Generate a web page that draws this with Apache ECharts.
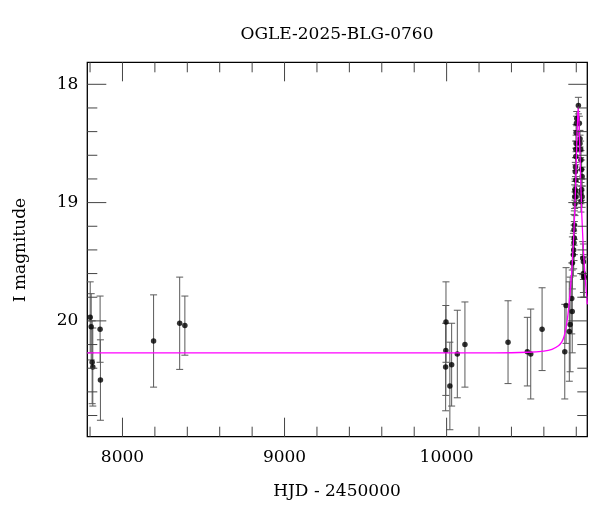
<!DOCTYPE html>
<html>
<head>
<meta charset="utf-8">
<script src="https://cdn.jsdelivr.net/npm/echarts@6/dist/echarts.min.js"></script>
<style>
html,body{margin:0;padding:0;background:#fff;}
#chart{width:600px;height:512px;}
</style>
</head>
<body>
<div id="chart"></div>
<script>
// ---- data ----
const titleText = 'OGLE-2025-BLG-0760';
const xName = 'HJD - 2450000';
const yName = 'I magnitude';

const obsT = [7801, 7807, 7813, 7817, 7862, 7864, 8192, 8353, 8385, 9996, 9995, 9994, 10020, 10031, 10066, 10113, 10379, 10498, 10519, 10589,
  10729, 10737, 10757, 10762, 10772, 10775, 10776, 10782, 10784, 10786, 10788, 10786, 10788, 10792, 10790, 10794, 10799, 10792, 10797, 10794,
  10795, 10797, 10797, 10799, 10799, 10801, 10803, 10813, 10819, 10823, 10823, 10827, 10829, 10833, 10836, 10829, 10829, 10833, 10836, 10840,
  10844, 10844, 10845, 10850];
const obsMag = [19.97, 20.05, 20.35, 20.39, 20.07, 20.50, 20.17, 20.02, 20.04, 20.01, 20.25, 20.39, 20.55, 20.37, 20.28, 20.20, 20.18, 20.26, 20.28, 20.07,
  20.26, 19.87, 20.09, 20.03, 19.81, 19.92, 19.51, 19.44, 19.40, 19.34, 19.30, 19.23, 19.19, 19.01, 18.95, 18.91, 18.95, 18.89, 18.81, 18.74,
  18.70, 18.61, 18.55, 18.50, 18.41, 18.33, 18.29, 18.18, 18.33, 18.46, 18.50, 18.55, 18.64, 18.72, 18.78, 18.92, 18.99, 18.89, 18.95, 19.47,
  19.50, 19.60, 19.63, 19.63];
const obsErr = [0.30, 0.28, 0.35, 0.33, 0.28, 0.34, 0.39, 0.39, 0.25, 0.34, 0.38, 0.37, 0.37, 0.35, 0.37, 0.36, 0.35, 0.29, 0.38, 0.35,
  0.40, 0.32, 0.42, 0.40, 0.30, 0.35, 0.22, 0.18, 0.16, 0.15, 0.14, 0.13, 0.12, 0.10, 0.10, 0.09, 0.09, 0.09, 0.08, 0.08,
  0.08, 0.07, 0.07, 0.07, 0.07, 0.06, 0.06, 0.07, 0.06, 0.07, 0.07, 0.07, 0.08, 0.08, 0.08, 0.09, 0.09, 0.09, 0.09, 0.14,
  0.15, 0.16, 0.17, 0.17];

const modelT = [7783, 10300, 10500, 10600, 10650, 10690, 10710, 10725, 10740, 10750, 10760, 10770, 10780, 10790, 10797, 10803, 10808, 10812,
  10816, 10821, 10827, 10834, 10844, 10854, 10864, 10868];
const modelMag = [20.27, 20.27, 20.265, 20.255, 20.24, 20.21, 20.18, 20.13, 20.03, 19.93, 19.79, 19.62, 19.40, 19.10, 18.80, 18.50, 18.29, 18.19,
  18.29, 18.50, 18.80, 19.10, 19.40, 19.62, 19.79, 19.86];

const xMajorTicks = [8000, 9000, 10000];
const xMinorTicks = [7800, 8200, 8400, 8600, 8800, 9200, 9400, 9600, 9800, 10200, 10400, 10600, 10800];
const yMajorTicks = [18, 19, 20];
const yMinorTicks = [18.2, 18.4, 18.6, 18.8, 19.2, 19.4, 19.6, 19.8, 20.2, 20.4, 20.6, 20.8];

const xMin = 7783, xMax = 10868;
const yMin = 17.814, yMax = 20.979;

// ---- build ----
const FONT = '"DejaVu Serif", serif';
const obsData = obsT.map((t, i) => [t, obsMag[i]]);
const errData = obsT.map((t, i) => [t, obsMag[i], obsErr[i]]);
const modelData = modelT.map((t, i) => [t, modelMag[i]]);
const yMid = (yMin + yMax) / 2, xMid = (xMin + xMax) / 2;
const tickData = [];
xMajorTicks.forEach(v => tickData.push([v, yMid, 1, 0]));
xMinorTicks.forEach(v => tickData.push([v, yMid, 0, 0]));
yMajorTicks.forEach(v => tickData.push([xMid, v, 1, 1]));
yMinorTicks.forEach(v => tickData.push([xMid, v, 0, 1]));

const chart = echarts.init(document.getElementById('chart'), null, {renderer: 'canvas'});
chart.setOption({
  animation: false,
  backgroundColor: '#fff',
  grid: {left: 87.3, top: 62.3, right: 12.7, bottom: 75.3, show: true, borderColor: '#000', borderWidth: 1.3, backgroundColor: 'transparent'},
  xAxis: {type: 'value', min: xMin, max: xMax, axisLine: {show: false}, axisTick: {show: false}, axisLabel: {show: false}, splitLine: {show: false}},
  yAxis: {type: 'value', inverse: true, min: yMin, max: yMax, axisLine: {show: false}, axisTick: {show: false}, axisLabel: {show: false}, splitLine: {show: false}},
  graphic: [
    {type: 'text', left: 'center', top: 0, style: {text: ''}},
    {type: 'text', x: 337, y: 35, style: {text: titleText, font: '17px ' + FONT, fill: '#000', align: 'center', verticalAlign: 'middle'}},
    {type: 'text', x: 337, y: 492, style: {text: xName, font: '17px ' + FONT, fill: '#000', align: 'center', verticalAlign: 'middle'}},
    {type: 'text', x: 21, y: 250, rotation: Math.PI / 2, style: {text: yName, font: '17px ' + FONT, fill: '#000', align: 'center', verticalAlign: 'middle'}}
  ],
  series: [
    {
      type: 'custom', name: 'ticks', data: tickData, encode: {x: 0, y: 1}, z: 5, silent: true, clip: false,
      renderItem: function (params, api) {
        const cs = params.coordSys;
        const major = api.value(2) === 1;
        const isX = api.value(3) === 0;
        const len = major ? 19 : 10;
        const st = {stroke: '#444', lineWidth: 1};
        const ch = [];
        if (isX) {
          const px = api.coord([api.value(0), api.value(1)])[0];
          const b = cs.y + cs.height, t = cs.y;
          ch.push({type: 'line', shape: {x1: px, y1: b, x2: px, y2: b - len}, style: st});
          ch.push({type: 'line', shape: {x1: px, y1: t, x2: px, y2: t + len}, style: st});
          if (major) ch.push({type: 'text', x: px, y: b + 21, style: {text: String(api.value(0)), font: '17px ' + FONT, fill: '#000', align: 'center', verticalAlign: 'middle'}});
        } else {
          const py = api.coord([api.value(0), api.value(1)])[1];
          const l = cs.x, r = cs.x + cs.width;
          ch.push({type: 'line', shape: {x1: l, y1: py, x2: l + len, y2: py}, style: st});
          ch.push({type: 'line', shape: {x1: r, y1: py, x2: r - len, y2: py}, style: st});
          if (major) ch.push({type: 'text', x: l - 9, y: py, style: {text: String(api.value(1)), font: '17px ' + FONT, fill: '#000', align: 'right', verticalAlign: 'middle'}});
        }
        return {type: 'group', children: ch};
      }
    },
    {
      type: 'custom', name: 'errors', data: errData, encode: {x: 0, y: 1}, z: 2, silent: true,
      renderItem: function (params, api) {
        const t = api.value(0), m = api.value(1), e = api.value(2);
        const p1 = api.coord([t, m - e]);
        const p2 = api.coord([t, m + e]);
        const w = 3.5;
        const st = {stroke: '#5a5a5a', lineWidth: 1};
        return {type: 'group', children: [
          {type: 'line', shape: {x1: p1[0], y1: p1[1], x2: p2[0], y2: p2[1]}, style: st},
          {type: 'line', shape: {x1: p1[0] - w, y1: p1[1], x2: p1[0] + w, y2: p1[1]}, style: st},
          {type: 'line', shape: {x1: p2[0] - w, y1: p2[1], x2: p2[0] + w, y2: p2[1]}, style: st}
        ]};
      }
    },
    {type: 'scatter', name: 'obs', data: obsData, symbol: 'circle', symbolSize: 5.5, itemStyle: {color: '#000'}, z: 3, silent: true},
    {type: 'line', name: 'model', data: modelData, showSymbol: false, symbol: 'none', smooth: 0.25, lineStyle: {color: '#ff00ff', width: 1.3}, z: 4, silent: true}
  ]
});
</script>
</body>
</html>
